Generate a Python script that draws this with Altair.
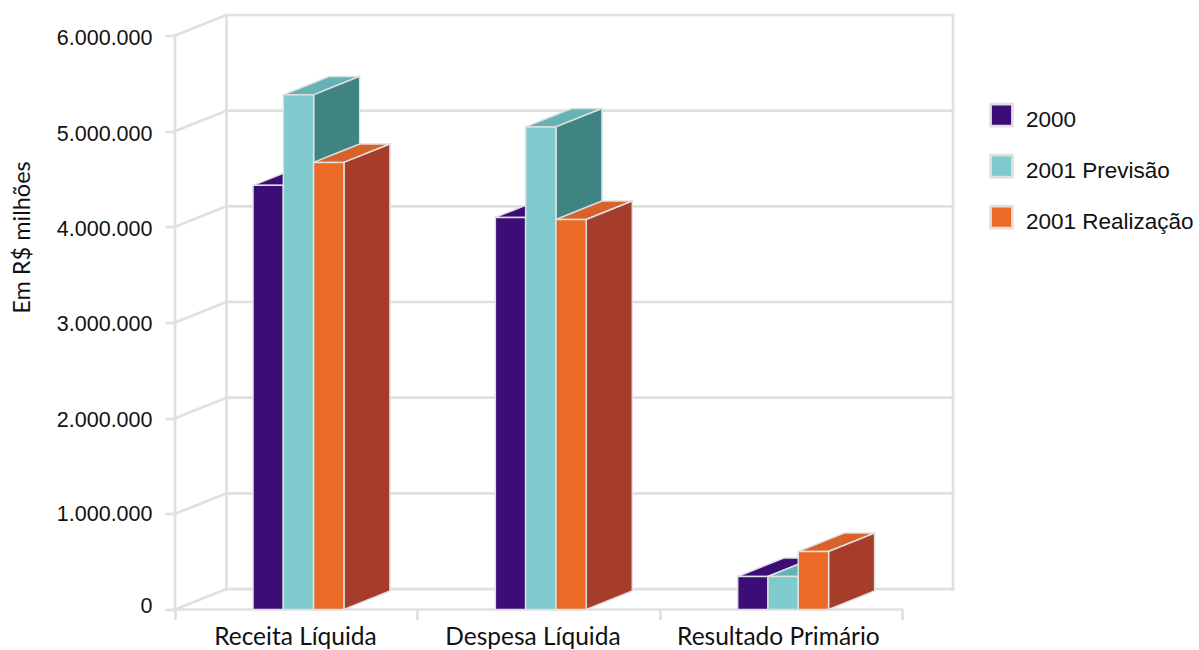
import altair as alt
import pandas as pd

# Federal results, values in R$ millions as plotted
categories = ["Receita Líquida", "Despesa Líquida", "Resultado Primário"]
series = ["2000", "2001 Previsão", "2001 Realização"]
values_2000 = [4433000, 4098000, 345000]
values_prev = [5379000, 5044000, 345000]
values_real = [4673000, 4077000, 606000]
y_ticks = [0, 1000000, 2000000, 3000000, 4000000, 5000000, 6000000]

front_colors = ["#3c0d76", "#7fcacc", "#ea6a26"]
top_colors = ["#3c0d76", "#66b3b5", "#d9622a"]
side_colors = ["#2e0a5c", "#3f8382", "#a63d2a"]
EDGE = "#e0e0e0"
GRID = "#e0e0e0"
FONT_NUM = "Liberation Sans"
FONT_TXT = "Lato"

# Pseudo-3D geometry, in scale units: x is in categories, y in R$ millions
X_MAX = 3.2105
Y_MAX = 6219000
GROUP_START = 0.322
BAR_W = 0.125
DEPTH_X = 0.19
DEPTH_Y = 193000
WALL_X = 0.2125
WALL_Y = 214000

# Ticks sit on whole categories; the category names hang off unticked positions
x_boundaries = [0, 1, 2, 3]
x_label_positions = [0.495, 1.475, 2.488]

all_values = [values_2000, values_prev, values_real]

x_scale = alt.Scale(domain=[0, X_MAX], range=[0, 778], nice=False, zero=False)
y_scale = alt.Scale(domain=[0, Y_MAX], nice=False, zero=False)
color_scale = alt.Scale(domain=series, range=front_colors)


def segments(rows):
    out = []
    for i, (x0, y0, x1, y1) in enumerate(rows):
        out.append({"k": i, "x": x0, "y": y0, "o": 0})
        out.append({"k": i, "x": x1, "y": y1, "o": 1})
    return pd.DataFrame(out)


# Back wall, floor and the oblique lines joining the value axis to the wall
wall_rows = [(WALL_X, WALL_Y + v, X_MAX, WALL_Y + v) for v in y_ticks]
wall_rows.append((WALL_X, WALL_Y, WALL_X, WALL_Y + 6000000))
wall_rows.append((X_MAX, WALL_Y, X_MAX, WALL_Y + 6000000))
wall_rows += [(0, v, WALL_X, WALL_Y + v) for v in y_ticks]
wall_rows.append((0, 0, 0, 6000000))
wall_rows.append((0, 0, 3, 0))

axis_y = alt.Axis(
    values=y_ticks,
    domain=False,
    grid=False,
    tickSize=10,
    tickWidth=2.7,
    tickColor=GRID,
    labelFont=FONT_NUM,
    labelFontSize=21.5,
    labelColor="#111111",
    labelPadding=13,
    labelOffset={
        "condition": [
            {"test": "datum.value == 0", "value": -3},
            {"test": "datum.value >= 4000000", "value": 3},
            {"test": "datum.value == 1000000", "value": 1},
        ],
        "value": 2,
    },
    labelExpr="replace(format(datum.value, ',d'), /,/g, '.')",
    title="Em R$ milhões",
    titleFont=FONT_TXT,
    titleFontSize=23.5,
    titleFontWeight="normal",
    titleColor="#111111",
    titleAngle=-90,
    titleAlign="center",
    titleBaseline="middle",
    titleX=-152.5,
    titleY=222.5,
)
axis_x = alt.Axis(
    values=x_boundaries + x_label_positions,
    domain=False,
    grid=False,
    tickSize=10,
    tickWidth=2.7,
    tickColor=GRID,
    tickOpacity={"condition": {"test": "datum.value % 1 != 0", "value": 0}, "value": 1},
    labelFont=FONT_TXT,
    labelFontSize=24.5,
    labelColor="#111111",
    labelPadding=6,
    labelLimit=400,
    labelExpr=(
        "datum.value % 1 == 0 ? '' : "
        f"{categories!r}[floor(datum.value)]"
    ),
    labelOverlap=False,
    labelFlush=False,
    title=None,
)

X = alt.X("x:Q", scale=x_scale, axis=axis_x)
Y = alt.Y("y:Q", scale=y_scale, axis=axis_y)

wall = (
    alt.Chart(segments(wall_rows))
    .mark_line(color=GRID, strokeWidth=2.7, strokeCap="square")
    .encode(x=X, y=Y, detail="k:N", order="o:Q")
)

layers = [wall]

for s, name in enumerate(series):
    front, top, side = [], [], []
    for c, v in enumerate(all_values[s]):
        a = c + GROUP_START + s * BAR_W
        b = a + BAR_W
        front.append({"x": a, "x2": b, "y": 0, "y2": v, "serie": name})
        side += [
            {"k": c, "x": b, "y": v, "y2": 0},
            {"k": c, "x": b + DEPTH_X, "y": v + DEPTH_Y, "y2": DEPTH_Y},
        ]
        slope = DEPTH_Y / DEPTH_X
        top += [
            {"k": c, "x": a, "y": v, "y2": v},
            {"k": c, "x": b, "y": v + slope * BAR_W, "y2": v},
            {"k": c, "x": a + DEPTH_X, "y": v + DEPTH_Y, "y2": v + slope * (DEPTH_X - BAR_W)},
            {"k": c, "x": b + DEPTH_X, "y": v + DEPTH_Y, "y2": v + DEPTH_Y},
        ]
    layers.append(
        alt.Chart(pd.DataFrame(top))
        .mark_area(orient="vertical", color=top_colors[s], stroke=EDGE, strokeWidth=1.5)
        .encode(x=X, y=Y, y2="y2:Q", detail="k:N")
    )
    layers.append(
        alt.Chart(pd.DataFrame(side))
        .mark_area(orient="vertical", color=side_colors[s], stroke=EDGE, strokeWidth=1.5)
        .encode(x=X, y=Y, y2="y2:Q", detail="k:N")
    )
    layers.append(
        alt.Chart(pd.DataFrame(front))
        .mark_rect(stroke=EDGE, strokeWidth=1.5)
        .encode(
            x=X,
            x2="x2:Q",
            y=Y,
            y2="y2:Q",
            color=alt.Color(
                "serie:N",
                scale=color_scale,
                legend=alt.Legend(
                    title=None,
                    orient="none",
                    legendX=814,
                    legendY=93,
                    # square drawn slightly above the label's midline
                    symbolType="M-1,-1.45H1V0.55H-1Z",
                    symbolSize=480,
                    symbolStrokeColor=EDGE,
                    symbolStrokeWidth=2.7,
                    symbolOpacity=1,
                    labelFont=FONT_NUM,
                    labelFontSize=22.5,
                    labelColor="#111111",
                    labelOffset=12,
                    labelLimit=300,
                    rowPadding=18,
                ),
            ),
        )
    )

chart = alt.layer(*layers).properties(
    width=778,
    height=595,
    autosize="none",
    padding={"left": 175, "top": 14.5, "right": 246, "bottom": 40.5},
    background="white",
).configure_view(stroke=None)

chart.save("out.html", embed_options={"renderer": "svg", "actions": False})
